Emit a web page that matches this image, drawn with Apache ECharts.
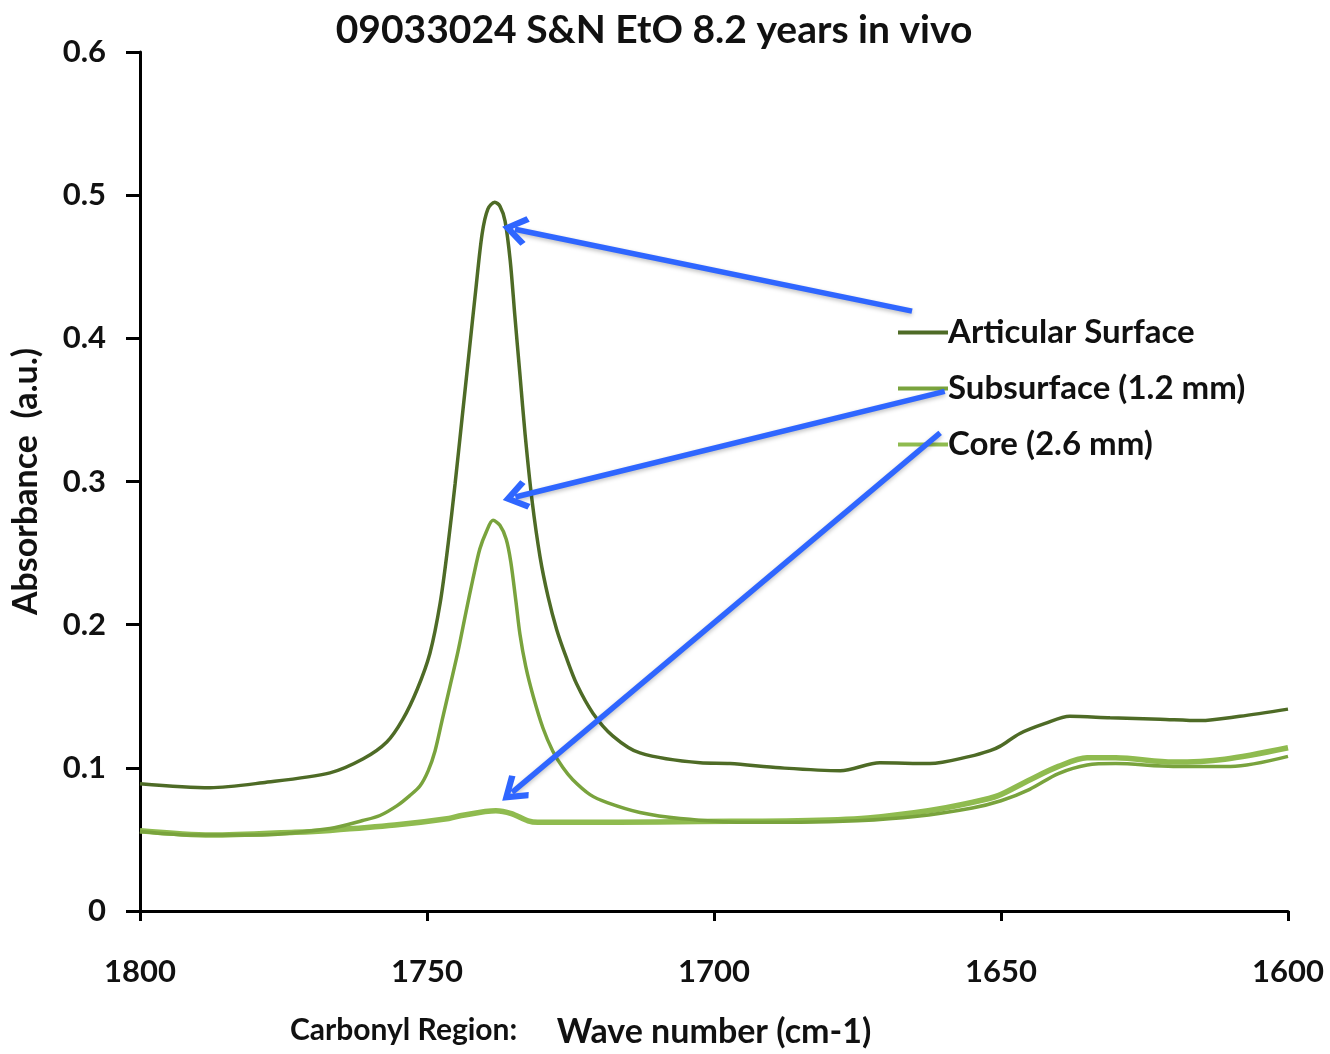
<!DOCTYPE html>
<html>
<head>
<meta charset="utf-8">
<script src="https://cdn.jsdelivr.net/npm/echarts@6/dist/echarts.min.js"></script>
<style>html,body{margin:0;padding:0;background:#fff}#c{width:1330px;height:1054px}</style>
</head>
<body>
<div id="c"></div>
<script>
const titleText = '09033024 S&N EtO 8.2 years in vivo';
const seriesNames = ['Articular Surface', 'Subsurface (1.2 mm)', 'Core (2.6 mm)'];
const xTicks = [1800, 1750, 1700, 1650, 1600];

const articularWn  = [1800, 1787.8, 1778.6, 1766.9, 1761.1, 1757.0, 1754.2, 1751.7, 1749.5, 1747.7, 1746.3, 1745.1, 1743.9, 1742.7, 1741.5, 1740.4, 1739.4, 1738.2, 1737.3, 1736.4, 1735.5, 1734.7, 1733.8, 1732.9, 1731.7, 1730.3, 1728.9, 1727.4, 1725.8, 1723.9, 1721.1, 1717.6, 1712.9, 1702.4, 1697.2, 1688.5, 1678.0, 1671.1, 1662.4, 1655.4, 1651.9, 1650.2, 1646.7, 1642.3, 1638.0, 1631.0, 1622.3, 1615.3, 1608.4, 1600];
const articularAbs = [0.0889, 0.0861, 0.0896, 0.0965, 0.1063, 0.118, 0.134, 0.1549, 0.1799, 0.2153, 0.2569, 0.2986, 0.3438, 0.3889, 0.434, 0.4729, 0.4903, 0.4951, 0.4924, 0.4819, 0.4542, 0.416, 0.3743, 0.3326, 0.2868, 0.2472, 0.2194, 0.1965, 0.1778, 0.1583, 0.1382, 0.1222, 0.1104, 0.1035, 0.103, 0.100, 0.098, 0.1035, 0.103, 0.108, 0.112, 0.115, 0.124, 0.131, 0.136, 0.135, 0.134, 0.133, 0.136, 0.141];

const subWn  = [1800, 1790, 1780, 1766.9, 1761.2, 1758.2, 1755.2, 1753.0, 1751.2, 1749.8, 1748.6, 1747.4, 1746.0, 1744.6, 1743.2, 1742.0, 1740.8, 1739.7, 1738.5, 1737.3, 1736.2, 1735.4, 1734.5, 1733.8, 1732.8, 1731.5, 1729.8, 1728.1, 1726.3, 1724.6, 1721.6, 1718.6, 1712.9, 1705.9, 1695, 1685, 1675, 1665, 1655, 1650, 1645, 1640, 1635, 1630, 1620, 1610, 1600];
const subAbs = [0.0556, 0.053, 0.053, 0.0576, 0.0632, 0.0667, 0.0736, 0.0806, 0.0875, 0.0979, 0.1118, 0.1326, 0.1569, 0.1813, 0.209, 0.2319, 0.2528, 0.2646, 0.2729, 0.2694, 0.2597, 0.2438, 0.216, 0.1931, 0.1708, 0.150, 0.1278, 0.1118, 0.100, 0.0917, 0.0813, 0.0757, 0.0688, 0.0646, 0.062, 0.062, 0.063, 0.066, 0.072, 0.077, 0.085, 0.096, 0.102, 0.103, 0.101, 0.101, 0.108];

const coreWn  = [1800, 1787.6, 1773, 1766.9, 1755.6, 1746.2, 1744, 1738, 1735.3, 1732.4, 1730.7, 1716.7, 1702.8, 1685.4, 1673.2, 1662.7, 1654.9, 1650.5, 1645.3, 1640, 1635, 1630, 1620, 1611, 1600];
const coreAbs = [0.056, 0.053, 0.055, 0.0563, 0.060, 0.0646, 0.0667, 0.070, 0.068, 0.063, 0.062, 0.062, 0.0625, 0.063, 0.065, 0.070, 0.076, 0.0806, 0.091, 0.101, 0.107, 0.107, 0.104, 0.106, 0.114];

// annotation arrows (from legend area to the curves), tail and tip in data space [wavenumber, absorbance]
const arrowFrom = [[1665.5, 0.419], [1659.8, 0.363], [1660.6, 0.334]];
const arrowTo   = [[1736.9, 0.478], [1736.8, 0.287], [1736.9, 0.077]];

const zip = (a, b) => a.map((v, i) => [v, b[i]]);
const FONT = 'Lato';
const colors = ['#4e6b26', '#79a33d', '#8fbb4f'];
const chevron = 'path://M0,0 L16,20 L11,24 L0,10 L-11,24 L-16,20 Z';
const headLen = 26;

const chart = echarts.init(document.getElementById('c'), null, {renderer: 'canvas'});

function arrowLines(shorten) {
  return arrowFrom.map((p, i) => {
    let end = arrowTo[i];
    if (shorten) {
      const a = chart.convertToPixel({gridIndex: 0}, p);
      const b = chart.convertToPixel({gridIndex: 0}, end);
      const dx = b[0] - a[0], dy = b[1] - a[1], L = Math.hypot(dx, dy);
      const e = [b[0] - dx / L * headLen / 2, b[1] - dy / L * headLen / 2];
      end = chart.convertFromPixel({gridIndex: 0}, e);
    }
    return [{coord: p}, {coord: end}];
  });
}

const option = {
  animation: false,
  backgroundColor: '#fff',
  title: [{
    text: titleText, left: 649, top: 6, textAlign: 'center',
    textStyle: {fontFamily: FONT, fontWeight: 'bold', fontSize: 39, color: '#111'}
  }],
  graphic: [{
    type: 'text', left: 290, top: 1015,
    style: {text: 'Carbonyl Region:', fontFamily: FONT, fontWeight: 'bold', fontSize: 30, fill: '#111'}
  }],
  legend: {
    orient: 'vertical', left: 893, top: 311, itemGap: 23,
    itemWidth: 50, itemHeight: 4, icon: 'rect',
    textStyle: {fontFamily: FONT, fontWeight: 'bold', fontSize: 33, color: '#111', padding: [0, 0, 0, -5]},
    data: seriesNames
  },
  grid: {left: 140, right: 42, top: 52, bottom: 137},
  xAxis: {
    type: 'value', min: 1600, max: 1800, interval: 50, inverse: true,
    name: 'Wave number (cm-1)', nameLocation: 'middle', nameGap: 104,
    nameTextStyle: {fontFamily: FONT, fontWeight: 'bold', fontSize: 34, color: '#111'},
    axisLine: {onZero: false, lineStyle: {color: '#000', width: 3}},
    axisTick: {inside: false, length: 10, lineStyle: {color: '#000', width: 3}},
    axisLabel: {margin: 45, fontFamily: FONT, fontWeight: 'bold', fontSize: 31, color: '#111',
      formatter: v => xTicks.includes(v) ? String(v) : ''},
    splitLine: {show: false}
  },
  yAxis: {
    type: 'value', min: 0, max: 0.6, interval: 0.1,
    name: 'Absorbance  (a.u.)', nameLocation: 'middle', nameGap: 97,
    nameTextStyle: {fontFamily: FONT, fontWeight: 'bold', fontSize: 34, color: '#111'},
    axisLine: {show: true, lineStyle: {color: '#000', width: 3}},
    axisTick: {show: true, length: 14, lineStyle: {color: '#000', width: 3}},
    axisLabel: {margin: 34, fontFamily: FONT, fontWeight: 'bold', fontSize: 31, color: '#111',
      formatter: v => String(Math.round(v * 10) / 10)},
    splitLine: {show: false}
  },
  series: [
    {
      name: seriesNames[0], type: 'line', data: zip(articularWn, articularAbs),
      showSymbol: false, smooth: 0.3, color: colors[0], z: 3,
      lineStyle: {width: 3.5, color: colors[0]}
    },
    {
      name: seriesNames[1], type: 'line', data: zip(subWn, subAbs),
      showSymbol: false, smooth: 0.3, color: colors[1], z: 2,
      lineStyle: {width: 3.5, color: colors[1]}
    },
    {
      name: seriesNames[2], type: 'line', data: zip(coreWn, coreAbs),
      showSymbol: false, smooth: 0.3, color: colors[2], z: 1,
      lineStyle: {width: 5.5, color: colors[2]},
      markLine: {
        silent: true, animation: false,
        symbol: ['none', chevron], symbolSize: [30, headLen],
        label: {show: false},
        lineStyle: {type: 'solid', color: '#2f66ff', width: 5.5, shadowColor: 'rgba(0,0,0,0.25)', shadowBlur: 4, shadowOffsetY: 2},
        data: arrowLines(false)
      }
    }
  ]
};
chart.setOption(option);
chart.setOption({series: [{}, {}, {markLine: {data: arrowLines(true)}}]});
</script>
</body>
</html>
